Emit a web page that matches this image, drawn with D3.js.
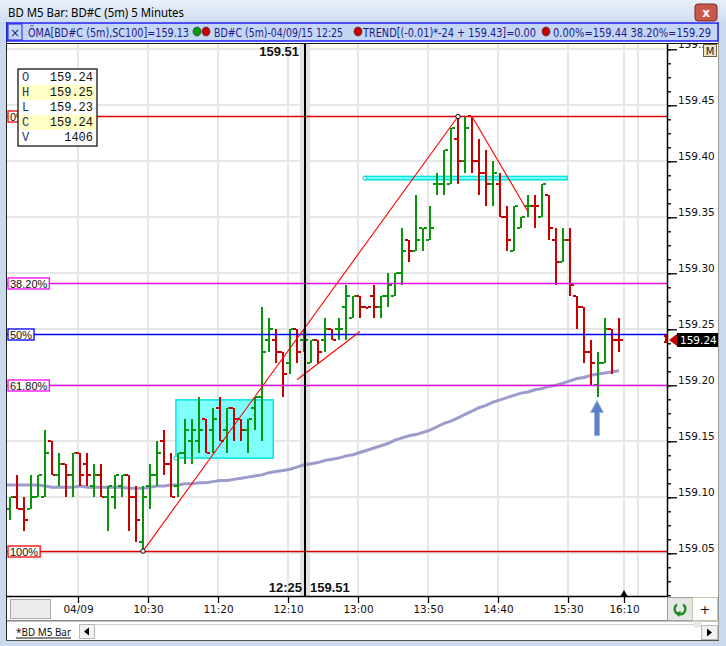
<!DOCTYPE html>
<html><head><meta charset="utf-8">
<script src="https://cdn.jsdelivr.net/npm/d3@7"></script>
<style>body{margin:0;background:#fff;overflow:hidden}svg{display:block}</style>
</head><body><svg id="c" width="726" height="646"></svg>
<script>
// ---------------- DATA ----------------
const startTime = "08:55";      // first bar, 5-minute bars
const barMinutes = 5;
const opens = [159.09,159.10,159.09,159.09,159.10,159.10,159.15,159.12,159.13,159.12,
159.14,159.13,159.11,159.12,159.10,159.10,159.11,159.12,159.10,159.06,
159.11,159.12,159.15,159.13,159.11,159.14,159.15,159.15,159.17,159.16,
159.18,159.16,159.18,159.17,159.16,159.18,159.19,159.24,159.24,159.23,
159.22,159.25,159.24,159.22,159.24,159.24,159.25,159.25,159.27,159.26,
159.28,159.27,159.28,159.27,159.28,159.28,159.30,159.33,159.32,159.34,
159.33,159.38,159.38,159.38,159.42,159.40,159.44,159.40,159.39,159.38,
159.38,159.35,159.32,159.34,159.36,159.36,159.35,159.37,159.33,159.31,
159.33,159.28,159.27,159.23,159.20,159.22,159.25,159.24];
const highs = [159.10,159.12,159.10,159.12,159.12,159.16,159.15,159.14,159.13,159.14,
159.14,159.14,159.13,159.13,159.11,159.12,159.12,159.12,159.11,159.11,
159.13,159.15,159.16,159.14,159.14,159.17,159.17,159.19,159.17,159.18,
159.19,159.18,159.18,159.17,159.17,159.19,159.27,159.26,159.25,159.23,
159.25,159.25,159.25,159.24,159.24,159.26,159.25,159.26,159.29,159.28,
159.28,159.27,159.29,159.28,159.30,159.30,159.34,159.33,159.37,159.34,
159.36,159.39,159.41,159.43,159.44,159.44,159.44,159.42,159.41,159.40,
159.39,159.36,159.36,159.35,159.37,159.37,159.38,159.37,159.34,159.34,
159.34,159.28,159.27,159.24,159.23,159.26,159.25,159.26];
const lows = [159.08,159.09,159.07,159.09,159.10,159.10,159.12,159.11,159.10,159.10,
159.11,159.11,159.10,159.10,159.07,159.09,159.10,159.07,159.06,159.05,
159.09,159.11,159.12,159.10,159.10,159.13,159.13,159.14,159.14,159.14,
159.15,159.14,159.15,159.15,159.14,159.16,159.15,159.23,159.22,159.19,
159.21,159.22,159.23,159.22,159.22,159.23,159.24,159.24,159.24,159.26,
159.26,159.27,159.26,159.26,159.27,159.28,159.29,159.31,159.32,159.32,
159.33,159.37,159.37,159.38,159.38,159.39,159.39,159.37,159.36,159.36,
159.35,159.32,159.32,159.34,159.35,159.34,159.35,159.33,159.29,159.31,
159.28,159.25,159.22,159.20,159.19,159.22,159.21,159.23];
const closes = [159.10,159.09,159.08,159.10,159.12,159.14,159.12,159.13,159.12,159.14,
159.12,159.12,159.12,159.10,159.11,159.12,159.12,159.10,159.08,159.10,
159.12,159.14,159.13,159.10,159.14,159.16,159.16,159.16,159.14,159.17,
159.15,159.18,159.17,159.16,159.17,159.19,159.23,159.25,159.23,159.21,
159.25,159.23,159.24,159.24,159.23,159.25,159.24,159.25,159.28,159.28,
159.27,159.27,159.27,159.28,159.29,159.30,159.32,159.32,159.33,159.34,
159.34,159.38,159.41,159.43,159.40,159.43,159.40,159.39,159.38,159.39,
159.35,159.33,159.36,159.35,159.36,159.36,159.38,159.34,159.31,159.33,
159.29,159.27,159.23,159.22,159.22,159.25,159.24,159.24];
const maValues = [159.111,159.111,159.111,159.111,159.111,159.110,159.109,159.109,159.109,159.109,
159.110,159.109,159.109,159.109,159.109,159.109,159.109,159.108,159.108,159.108,
159.109,159.110,159.110,159.111,159.111,159.112,159.112,159.113,159.113,159.114,
159.115,159.115,159.116,159.117,159.118,159.119,159.120,159.122,159.123,159.124,
159.125,159.127,159.129,159.130,159.131,159.133,159.134,159.135,159.137,159.138,
159.140,159.142,159.144,159.146,159.148,159.151,159.153,159.155,159.156,159.158,
159.160,159.163,159.166,159.168,159.171,159.174,159.177,159.180,159.182,159.185,
159.187,159.189,159.191,159.193,159.194,159.196,159.197,159.199,159.200,159.202,
159.204,159.206,159.207,159.209,159.210,159.211,159.212,159.213];

const tickTimes  = ["09:40","10:30","11:20","12:10","13:00","13:50","14:40","15:30","16:10"];
const tickLabels = ["04/09","10:30","11:20","12:10","13:00","13:50","14:40","15:30","16:10"];
const gridTimes  = ["09:40","10:30","11:20","12:10","13:00","13:50","14:40","15:30","16:10","16:20"];
const priceMajor = [159.05,159.10,159.15,159.20,159.25,159.30,159.35,159.40,159.45,159.50];
const minorStep = 0.0125;

const crossTime = "12:25";
const crossPrice = "159.51";
const crossVolume = 1406;

const fibHigh = 159.44, fibLow = 159.052;
const fibRatios = [0, 0.382, 0.5, 0.618, 1];
const fibNames  = ["0%","38.20%","50%","61.80%","100%"];

const trendLines = [
  {t0:"10:30", p0:159.052, t1:"14:15", p1:159.44, ends:true},
  {t0:"14:25", p0:159.44,  t1:"15:05", p1:159.355, ends:false},
  {t0:"12:20", p0:159.205, t1:"13:05", p1:159.248, ends:false}
];
const cyanBox  = {i0:23.7, i1:37.6, p0:159.187, p1:159.135};
const cyanBand = {i0:50.7, i1:79.6, p0:159.3865, p1:159.3835};
const arrowBar = "15:55";

// ---------------- SETUP ----------------
const svg = d3.select("#c");
const P = {l:7, r:667, t:44, b:596};
const toMin = s => { const [h,m]=s.split(":").map(Number); return h*60+m; };
const idxOf = s => (toMin(s)-toMin(startTime))/barMinutes;
const n = opens.length;
const x = d3.scaleLinear().domain([0, n-1]).range([10, 619]);
const y = d3.scaleLinear().domain([159.05, 159.45]).range([553.3, 105.3]);
const tickOff = 5;
const GREEN = "#0a960a", RED = "#c80000";

// window chrome background
const defs = svg.append("defs");
const tg = defs.append("linearGradient").attr("id","tg").attr("x1",0).attr("y1",0).attr("x2",0).attr("y2",1);
tg.append("stop").attr("offset","0%").attr("stop-color","#e9f0f9");
tg.append("stop").attr("offset","100%").attr("stop-color","#cfdef1");
defs.append("clipPath").attr("id","axclip").append("rect").attr("x",660).attr("y",44).attr("width",58).attr("height",560);
svg.append("rect").attr("width",726).attr("height",646).attr("fill","#cad9ec");
svg.append("rect").attr("x",0).attr("y",0).attr("width",726).attr("height",22).attr("fill","url(#tg)");
svg.append("text").attr("x",8).attr("y",17).attr("font-family","Noto Sans, DejaVu Sans").attr("font-size",12.5)
  .attr("textLength",176).attr("lengthAdjust","spacingAndGlyphs").attr("fill","#000").text("BD M5 Bar: BD#C (5m) 5 Minutes");
// close button
svg.append("rect").attr("x",695).attr("y",4).attr("width",22).attr("height",17).attr("rx",3).attr("fill","#c9584c").attr("stroke","#7a2b24");
svg.append("text").attr("x",706).attr("y",17).attr("text-anchor","middle").attr("font-family","DejaVu Sans").attr("font-weight","bold")
  .attr("font-size",12).attr("fill","#fff").text("x");

// main white area
svg.append("rect").attr("x",6).attr("y",22).attr("width",713).attr("height",618).attr("fill","#fff");
svg.append("line").attr("x1",6.5).attr("x2",6.5).attr("y1",22).attr("y2",640).attr("stroke","#222");
svg.append("line").attr("x1",718.5).attr("x2",718.5).attr("y1",22).attr("y2",640).attr("stroke","#999");

// legend bar
svg.append("rect").attr("x",7).attr("y",23).attr("width",711).attr("height",18).attr("fill","#c4d6f3").attr("stroke","#1f1fff").attr("stroke-width",1.5);
svg.append("rect").attr("x",8).attr("y",24).attr("width",14).attr("height",16).attr("fill","none").attr("stroke","#1f1fff");
svg.append("text").attr("x",15).attr("y",37).attr("text-anchor","middle").attr("font-family","DejaVu Sans").attr("font-size",12).attr("fill","#1a1a8c").text("×");
const ci = idxOf(crossTime);
const fmt2 = d3.format(".2f");
const legendParts = [
  {x:28, w:161, t:"ÖMA[BD#C (5m),SC100]=" + fmt2(maValues[ci])},
  {x:214, w:129, t:"BD#C (5m)-04/09/15 " + crossTime},
  {x:363, w:173, t:"TREND[(-0.01)*-24 + 159.43]=0.00"},
  {x:553, w:158, t:"0.00%=" + fmt2(fibHigh) + " 38.20%=" + fmt2(fibHigh-(fibHigh-fibLow)*0.382)}
];
legendParts.forEach(p => svg.append("text").attr("x",p.x).attr("y",36.5).attr("font-family","DejaVu Sans").attr("font-size",12)
  .attr("textLength",p.w).attr("lengthAdjust","spacingAndGlyphs").attr("fill","#1a1a8c").text(p.t));
[[197,GREEN],[206,RED],[358,RED],[546,RED]].forEach(d => svg.append("ellipse").attr("cx",d[0]).attr("cy",31.5).attr("rx",4).attr("ry",4.5)
  .attr("fill",d[1]).attr("stroke","#333").attr("stroke-width",0.6));

// chart top border
svg.append("line").attr("x1",7).attr("x2",718).attr("y1",43.5).attr("y2",43.5).attr("stroke","#111");

const plotG = svg.append("g");
plotG.append("clipPath").attr("id","clip").append("rect").attr("x",P.l).attr("y",P.t).attr("width",P.r-P.l).attr("height",P.b-P.t);
const g = plotG.append("g").attr("clip-path","url(#clip)");

// grid
g.selectAll(".hg").data(priceMajor).join("line").attr("x1",P.l).attr("x2",P.r)
  .attr("y1",d=>Math.round(y(d))).attr("y2",d=>Math.round(y(d))).attr("stroke","#e6e6e6").attr("stroke-width",2);
g.selectAll(".vg").data(gridTimes).join("line").attr("y1",P.t).attr("y2",P.b)
  .attr("x1",d=>Math.round(x(idxOf(d))+tickOff)).attr("x2",d=>Math.round(x(idxOf(d))+tickOff)).attr("stroke","#e6e6e6").attr("stroke-width",2);

// crosshair band
const cx = Math.round(x(ci))+1;
g.append("rect").attr("x",cx-5).attr("y",P.t).attr("width",10).attr("height",P.b-P.t).attr("fill","#e2e2e2");

// cyan rectangles
function cyanRect(b){
  const x0=x(b.i0), x1=x(b.i1), y0=y(b.p0), y1=y(b.p1);
  g.append("rect").attr("x",x0).attr("y",y0).attr("width",x1-x0).attr("height",Math.max(2,y1-y0))
    .attr("fill","#80ffff").attr("stroke","#00e5e5").attr("stroke-width",1.5);
  g.append("circle").attr("cx",x0).attr("cy",b===cyanBox?y1:(y0+y1)/2).attr("r",2).attr("fill","#fff").attr("stroke","#00d0d0");
}
cyanRect(cyanBox); cyanRect(cyanBand);

// moving average
g.append("path").datum(maValues).attr("fill","none").attr("stroke","#9c9ccc").attr("stroke-width",3)
  .attr("d", d3.line().x((d,i)=>i===0?P.l:x(i)).y(d=>y(d)));

// OHLC bars
const up = i => closes[i]>opens[i] || (closes[i]===opens[i] && i>0 && closes[i]>closes[i-1]);
const bars = g.append("g").attr("shape-rendering","crispEdges");
d3.range(n).forEach(i => {
  const xc = Math.round(x(i));
  const col = up(i) ? GREEN : RED;
  const yh = Math.round(y(highs[i])), yl = Math.round(y(lows[i]));
  const yo = Math.round(y(opens[i])), yc = Math.round(y(closes[i]));
  bars.append("rect").attr("x",xc-1).attr("y",yh).attr("width",2).attr("height",Math.max(2,yl-yh)).attr("fill",col);
  bars.append("rect").attr("x",xc-4).attr("y",yo-1).attr("width",3).attr("height",2).attr("fill",col);
  bars.append("rect").attr("x",xc+1).attr("y",yc-1).attr("width",3).attr("height",2).attr("fill",col);
});

// fib lines
const fibColors = ["#e00000","#e010e0","#0000ff","#e010e0","#e00000"];
const fibPrices = fibRatios.map(r => fibHigh - (fibHigh-fibLow)*r);
g.selectAll(".fib").data(fibPrices).join("line").attr("x1",P.l).attr("x2",P.r)
  .attr("y1",d=>Math.round(y(d))+0.5).attr("y2",d=>Math.round(y(d))+0.5).attr("stroke",(d,i)=>fibColors[i]).attr("stroke-width",1.3);

// trend lines
trendLines.forEach(t => {
  const a=[x(idxOf(t.t0)), y(t.p0)], b=[x(idxOf(t.t1)), y(t.p1)];
  g.append("line").attr("x1",a[0]).attr("y1",a[1]).attr("x2",b[0]).attr("y2",b[1]).attr("stroke","#ff0000").attr("stroke-width",1.1);
  if (t.ends) [a,b].forEach(p => g.append("circle").attr("cx",p[0]).attr("cy",p[1]).attr("r",2.2).attr("fill","#fff").attr("stroke","#000").attr("stroke-width",1));
});

// crosshair line
g.append("line").attr("x1",cx).attr("x2",cx).attr("y1",P.t).attr("y2",P.b).attr("stroke","#000").attr("stroke-width",2);

// blue arrow
const ax = x(idxOf(arrowBar))-1, ayTop = y(lows[idxOf(arrowBar)])+4;
g.append("path").attr("d",`M${ax},${ayTop} L${ax+6.5},${ayTop+12} L${ax+2.5},${ayTop+12} L${ax+2.5},${ayTop+35} L${ax-2.5},${ayTop+35} L${ax-2.5},${ayTop+12} L${ax-6.5},${ayTop+12} Z`)
  .attr("fill","#5a80c6").attr("stroke","#9ab3e0").attr("stroke-width",1);

// fib labels
const fibLabelColors = ["#ff0000","#ff00ff","#0000ff","#ff00ff","#ff0000"];
fibPrices.forEach((p,i) => {
  const yy = Math.round(y(p))+0.5;
  const gl = g.append("g");
  const r = gl.append("rect").attr("x",8).attr("y",yy-5.5).attr("height",11).attr("fill","#fff").attr("stroke",fibLabelColors[i]).attr("stroke-width",1.3);
  const tx = gl.append("text").attr("x",10).attr("y",yy+4).attr("font-family","Liberation Sans, Arial").attr("font-size",11).attr("fill","#111").text(fibNames[i]);
  r.attr("width", tx.node().getComputedTextLength()+4);
});

// OHLC box
const ob = svg.append("g").attr("transform","translate(18,69)");
ob.append("rect").attr("width",79).attr("height",77).attr("fill","#fff").attr("stroke","#000").attr("stroke-width",1.2);
const rows = [["O",fmt2(opens[ci])],["H",fmt2(highs[ci])],["L",fmt2(lows[ci])],["C",fmt2(closes[ci])],["V",String(crossVolume)]];
rows.forEach((r,k) => {
  if (k%2===1) ob.append("rect").attr("x",1).attr("y",1+k*15).attr("width",77).attr("height",15).attr("fill","#ffffc6");
  ob.append("text").attr("x",4).attr("y",12+k*15).attr("font-family","Liberation Mono, monospace").attr("font-size",12).attr("fill","#303070").text(r[0]);
  ob.append("text").attr("x",75).attr("y",12+k*15).attr("text-anchor","end").attr("font-family","Liberation Mono, monospace").attr("font-size",12).attr("fill","#111").text(r[1]);
});

// crosshair labels
svg.append("text").attr("x",cx-6).attr("y",56).attr("text-anchor","end").attr("font-family","Liberation Sans, Arial").attr("font-weight","bold").attr("font-size",13).attr("fill","#111").text(crossPrice);
svg.append("text").attr("x",cx-3).attr("y",592).attr("text-anchor","end").attr("font-family","Liberation Sans, Arial").attr("font-weight","bold").attr("font-size",13).attr("fill","#111").text(crossTime);
svg.append("text").attr("x",cx+5).attr("y",592).attr("font-family","Liberation Sans, Arial").attr("font-weight","bold").attr("font-size",13).attr("fill","#111").text(crossPrice);

// right axis (clipped to the chart area so the top label is cut like the original)
const minorVals = d3.range(-3, 38).map(k => 159.05 + k*minorStep).filter(v => y(v) > P.t && y(v) < P.b+1);
const ra = svg.append("g").attr("clip-path","url(#axclip)").append("g").attr("transform",`translate(${P.r},0)`);
ra.append("g").call(d3.axisRight(y).tickValues(minorVals).tickSize(4).tickFormat("")).call(s=>s.select(".domain").remove())
  .selectAll("line").attr("stroke","#000").attr("stroke-width",1.3);
const maj = ra.append("g").call(d3.axisRight(y).tickValues(priceMajor).tickSize(10).tickFormat(fmt2)).call(s=>s.select(".domain").remove());
maj.selectAll("line").attr("stroke","#000").attr("stroke-width",1.3);
maj.selectAll("text").attr("x",11).attr("dy","-0.15em").attr("font-family","DejaVu Sans").attr("font-size",10.5).attr("fill","#111");
ra.append("line").attr("x1",0.5).attr("x2",0.5).attr("y1",P.t).attr("y2",P.b).attr("stroke","#000").attr("stroke-width",1.5);
// M button
svg.append("rect").attr("x",703.5).attr("y",44.5).attr("width",13).attr("height",12).attr("fill","#efe6d2").attr("stroke","#6e5f3e");
svg.append("text").attr("x",710).attr("y",54.5).attr("text-anchor","middle").attr("font-family","DejaVu Sans").attr("font-size",10).attr("fill","#222").text("M");

// last price marker
const lp = closes[n-1], ly = Math.round(y(lp));
svg.append("path").attr("d",`M664,${ly-5} L667,${ly-5} L667,${ly+3} L664,${ly+3} L664,${ly+1} L665,${ly+1} L665,${ly-3} L664,${ly-3} Z`).attr("fill",RED);
svg.append("path").attr("d",`M669,${ly} L677,${ly-6} L677,${ly+6} Z`).attr("fill",RED);
svg.append("rect").attr("x",677).attr("y",ly-7).attr("width",41).attr("height",14).attr("fill","#000");
svg.append("text").attr("x",680).attr("y",ly+4).attr("font-family","DejaVu Sans").attr("font-size",10.5).attr("fill","#fff").text(fmt2(lp));

// bottom axis
const xa = svg.append("g").attr("transform",`translate(${tickOff},${P.b})`);
xa.call(d3.axisBottom(x).tickValues(tickTimes.map(idxOf)).tickSize(7).tickFormat((d,i)=>tickLabels[i])).call(s=>s.select(".domain").remove());
xa.selectAll("line").attr("stroke","#000").attr("stroke-width",1.3);
xa.selectAll("text").attr("font-family","DejaVu Sans").attr("font-size",10.5).attr("fill","#111");
svg.append("line").attr("x1",7).attr("x2",P.r+1).attr("y1",P.b+0.5).attr("y2",P.b+0.5).attr("stroke","#000").attr("stroke-width",1.5);
const lastX = x(n-1)+tickOff;
svg.append("path").attr("d",`M${lastX-3.5},${P.b} L${lastX+3.5},${P.b} L${lastX},${P.b-6} Z`).attr("fill","#000");
svg.append("rect").attr("x",10.5).attr("y",599.5).attr("width",40).attr("height",19).attr("fill","#ececec").attr("stroke","#a8a8a8");
svg.append("line").attr("x1",7).attr("x2",718).attr("y1",621).attr("y2",621).attr("stroke","#111").attr("stroke-width",1.2);

// bottom-right buttons
svg.append("rect").attr("x",667.5).attr("y",597.5).attr("width",25).attr("height",23).attr("fill","#e6e6e6").attr("stroke","#a0a0a0");
svg.append("rect").attr("x",692.5).attr("y",597.5).attr("width",25).attr("height",23).attr("fill","#fdfdfd").attr("stroke","#c8c0a8");
svg.append("path").attr("d",d3.arc()({innerRadius:4.2,outerRadius:6.6,startAngle:0.6,endAngle:5.7})).attr("transform","translate(680,609)").attr("fill","#1e8c1e");
svg.append("path").attr("d","M675,613 L681,611 L679,617 Z").attr("fill","#1e8c1e");
svg.append("text").attr("x",705).attr("y",614).attr("text-anchor","middle").attr("font-family","DejaVu Sans").attr("font-size",13).attr("fill","#111").text("+");

// tab bar
svg.append("rect").attr("x",7).attr("y",621.5).attr("width",711).attr("height",18).attr("fill","#fff");
svg.append("text").attr("x",16).attr("y",636).attr("font-family","Noto Sans, DejaVu Sans").attr("font-size",11.5)
  .attr("textLength",55).attr("lengthAdjust","spacingAndGlyphs").attr("fill","#111").text("*BD M5 Bar");
svg.append("line").attr("x1",16).attr("x2",71).attr("y1",638).attr("y2",638).attr("stroke","#111");
svg.append("rect").attr("x",79.5).attr("y",624.5).attr("width",15).attr("height",14).attr("fill","#f2f2f2").attr("stroke","#b8b8b8");
svg.append("path").attr("d","M84,631.5 L89,627.5 L89,635.5 Z").attr("fill","#000");
svg.append("line").attr("x1",95).attr("x2",700).attr("y1",624.5).attr("y2",624.5).attr("stroke","#d0d0d0");
svg.append("rect").attr("x",693.5).attr("y",621.5).attr("width",8).attr("height",6).attr("fill","#e8e8e8");
svg.append("rect").attr("x",701.5).attr("y",625.5).attr("width",16).attr("height",14).attr("fill","#f2f2f2").attr("stroke","#b8b8b8");
svg.append("path").attr("d","M712,632.5 L707,628.5 L707,636.5 Z").attr("fill","#000");
svg.append("rect").attr("x",0).attr("y",640).attr("width",726).attr("height",6).attr("fill","#cad9ec");
svg.append("line").attr("x1",6).attr("x2",719).attr("y1",640.5).attr("y2",640.5).attr("stroke","#555");
</script></body></html>
